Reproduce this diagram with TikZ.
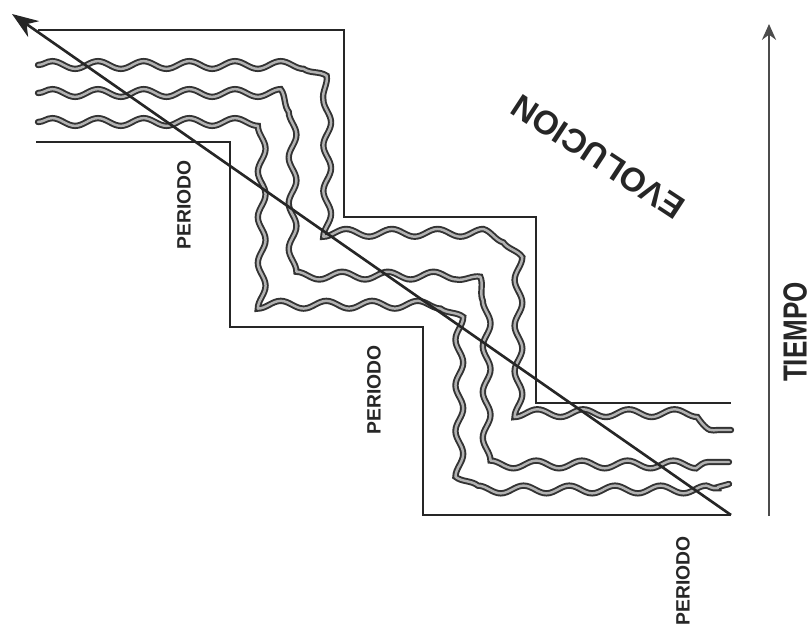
\documentclass[tikz,border=0pt]{standalone}
\usepackage{fontspec}
\setmainfont{Liberation Sans}
\usepackage{xcolor}
\usepackage{tikz}
\usetikzlibrary{arrows.meta,decorations.pathmorphing}

\begin{document}
\begin{tikzpicture}[x=0.02cm, y=-0.02cm,
    borde/.style={line width=1.1pt, draw=black!85},
    onda/.style={draw=gray!60, line width=1.4pt, line join=round, line cap=round,
      preaction={draw=black!80, line width=3.6pt, line cap=round},
      decorate, decoration={snake, amplitude=2.2pt, segment length=26pt, post length=2pt}},
    periodo/.style={rotate=90, text=black!85, font=\bfseries\fontsize{11}{13}\selectfont}]
      \useasboundingbox (0,0) rectangle (811,626);

      % Staircase borders
      \draw[borde] (38,30) -- (344,30) -- (344,217) -- (536,217) -- (536,403) -- (731,403);
      \draw[borde] (36,142) -- (230,142) -- (230,327) -- (423,327) -- (423,515) -- (731,515);

      % Wavy lines
      \draw[onda] (38,65) [rounded corners=17pt] -- (315,65) [rounded corners=5pt] -- (315,243)
        [rounded corners=18pt] -- (508,243) [rounded corners=5pt] -- (508,430) -- (731,430) [sharp corners];
      \draw[onda] (38,93) [rounded corners=14pt] -- (283,93) [rounded corners=5pt] -- (283,273)
        [rounded corners=14pt] -- (477,273) [rounded corners=5pt] -- (477,462) -- (729,462) [sharp corners];
      \draw[onda] (38,122) [rounded corners=6pt] -- (248,122) [rounded corners=5pt] -- (248,307)
        [rounded corners=6pt] -- (450,307) [rounded corners=5pt] -- (450,492) -- (700,492) -- (729,484) [sharp corners];

      % Arrows
      \coordinate (evolfin) at (731,515);
      \coordinate (evolini) at (12,14);
      \draw[line width=1.5pt, black!85, -{Stealth[length=15pt, width=11pt]}] (evolfin) -- (evolini);
      \coordinate (tiempo0) at (769,516);
      \coordinate (tiempo1) at (769,24);
      \draw[line width=1.3pt, black!70, -{Stealth[length=9pt, width=8pt]}] (tiempo0) -- (tiempo1);

      % Labels
      \node[periodo] (per1) at (184,205) {PERIODO};
      \node[periodo] (per2) at (374,390) {PERIODO};
      \node[periodo] (per3) at (683,581) {PERIODO};
      \node[rotate=90, text=black!85, font=\bfseries\fontsize{19}{22}\selectfont] (tiempo) at (795,332) {\scalebox{0.78}[1]{TIEMPO}};
      \node[rotate=146.7, text=black!85, font=\bfseries\fontsize{19}{22}\selectfont] (evol) at (598,157) {EVOLUCION};
\end{tikzpicture}
\end{document}
